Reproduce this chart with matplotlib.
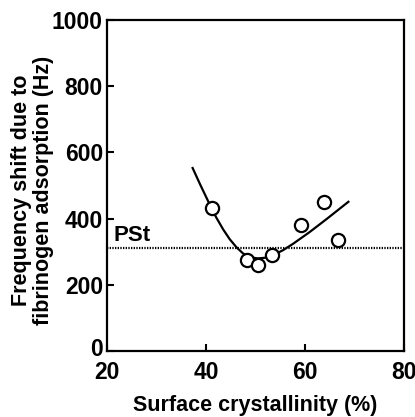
import matplotlib
matplotlib.use('Agg')
import matplotlib.pyplot as plt
import matplotlib.transforms as mtransforms

# measured points
crystallinity = [41.2, 48.3, 50.6, 53.4, 59.3, 63.9, 66.7]
freq_shift = [433, 275, 260, 290, 380, 450, 335]

# fitted curve
curve_x = [37.3, 38.8, 41.1, 42.1, 43.5, 44.8, 46.2, 47.5, 49.0, 50.5, 52.0,
           53.5, 55.6, 57.6, 61.0, 64.4, 68.8]
curve_y = [553, 504, 432, 403, 367, 338, 313, 295, 283, 280, 282,
           289, 305, 324, 360, 399, 451]

pst_level = 312

plt.rcParams['font.family'] = 'Liberation Sans'
plt.rcParams['font.weight'] = 'bold'

fig = plt.figure(figsize=(4.15, 4.17), dpi=100)
ax = fig.add_axes([0.258, 0.158, 0.715, 0.794])

ax.plot(curve_x, curve_y, color='black', lw=1.6, zorder=2, solid_joinstyle='round')
ax.plot(crystallinity, freq_shift, 'o', ms=9.5, mfc='white', mec='black', mew=1.6, zorder=3)
ax.axhline(pst_level, color='black', lw=1.6, ls=(0, (0.6, 0.6)), zorder=1)
ax.text(21.2, 334, 'PSt', fontsize=16, fontweight='bold', va='baseline', ha='left')

ax.set_xlim(20, 80)
ax.set_ylim(0, 1000)
ax.set_xticks([20, 40, 60, 80])
ax.set_yticks([0, 200, 400, 600, 800, 1000])
ax.tick_params(direction='in', length=5, width=1.5, labelsize=16.5)
ax.tick_params(axis='x', pad=7)
ax.tick_params(axis='y', pad=3)
for s in ax.spines.values():
    s.set_linewidth(1.6)

# the "0" sits a little higher than the others, above the "20"
lbl0 = ax.get_yticklabels()[0]
lbl0.set_transform(lbl0.get_transform() + mtransforms.ScaledTranslation(0, 3 / 72, fig.dpi_scale_trans))

ax.set_xlabel('Surface crystallinity (%)', fontsize=15.5, fontweight='bold', labelpad=8)
ax.set_ylabel('Frequency shift due to\nfibrinogen adsorption (Hz)', fontsize=15.5,
              fontweight='bold', linespacing=1.05)
ax.yaxis.set_label_coords(-0.18, 0.485)

fig.savefig('out.png', dpi=100)
